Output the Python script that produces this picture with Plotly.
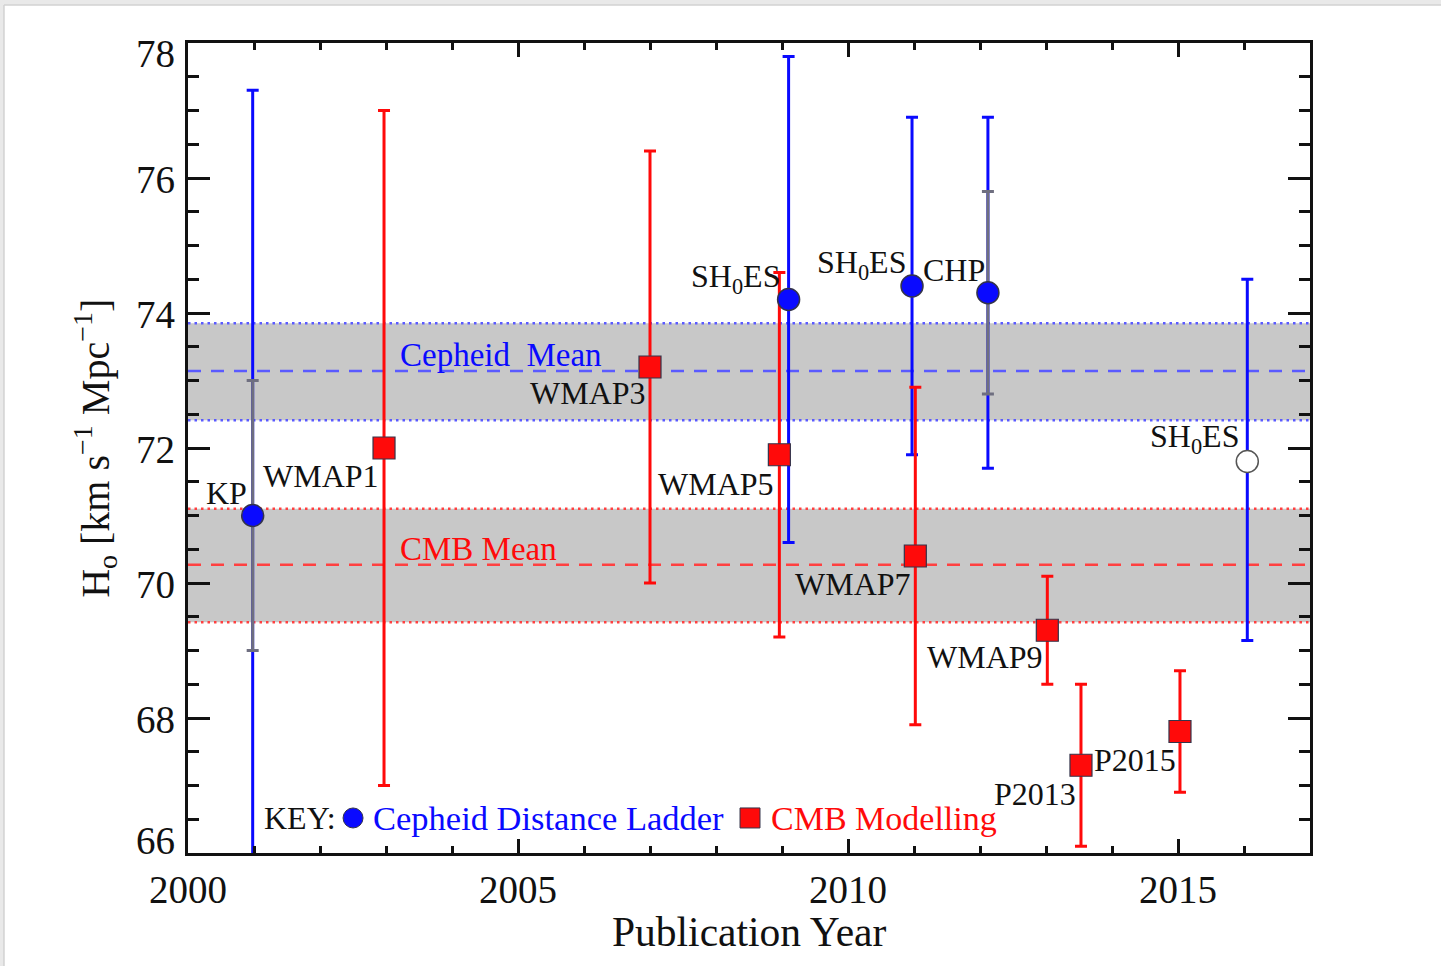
import plotly.graph_objects as go

# ---------------- data ----------------
cep_names = ["KP", "SH<sub>0</sub>ES", "SH<sub>0</sub>ES", "CHP", "SH<sub>0</sub>ES"]
cep_year = [2000.98, 2009.10, 2010.97, 2012.12, 2016.05]
cep_h0 = [71.0, 74.2, 74.4, 74.3, 71.8]
cep_err_plus = [6.3, 3.6, 2.5, 2.6, 2.7]
cep_err_minus = [6.3, 3.6, 2.5, 2.6, 2.65]
cep_open = [False, False, False, False, True]

stat_year = [2000.98, 2012.12]
stat_h0 = [71.0, 74.3]
stat_err = [2.0, 1.5]

cmb_names = ["WMAP1", "WMAP3", "WMAP5", "WMAP7", "WMAP9", "P2013", "P2015"]
cmb_year = [2002.97, 2007.0, 2008.96, 2011.02, 2013.02, 2013.53, 2015.03]
cmb_h0 = [72.0, 73.2, 71.9, 70.4, 69.3, 67.3, 67.8]
cmb_err_plus = [5.0, 3.2, 2.7, 2.5, 0.8, 1.2, 0.9]
cmb_err_minus = [5.0, 3.2, 2.7, 2.5, 0.8, 1.2, 0.9]

cep_band = [72.41, 73.14, 73.85]   # low, mean, high
cmb_band = [69.42, 70.27, 71.10]

x_range = [2000, 2017]
y_range = [66, 78]
y_ticks = [66, 68, 70, 72, 74, 76, 78]

# ---------------- styles ----------------
FONT = "Liberation Serif"
BLUE = "#0a0aff"
RED = "#ff0a0a"
GRAY = "#6f6f80"
EDGE = "#34344a"
INK = "#111111"

# label offsets (pixels) relative to each point: (xshift, yshift)
cep_offsets = [(-4, 23), (-7, 21), (-4, 22), (-1, 23), (-6, 23)]
cmb_offsets = [(-3, -28), (-2, -26), (-3, -29), (-2, -28), (-2, -27), (-3, -29), (-2, -28)]
# vertical nudges of the y tick labels (end labels kept inside the frame)
y_tick_shift = {66: 13, 78: -10}

fig = go.Figure()

# blue total error bars (no visible marker)
fig.add_trace(go.Scatter(
    x=cep_year, y=cep_h0, mode="markers",
    marker=dict(size=1, color="rgba(0,0,0,0)"),
    error_y=dict(type="data", symmetric=False, array=cep_err_plus,
                 arrayminus=cep_err_minus, color=BLUE, thickness=3, width=6),
    hoverinfo="skip", showlegend=False))

# CMB points
fig.add_trace(go.Scatter(
    x=cmb_year, y=cmb_h0, mode="markers",
    marker=dict(symbol="square", size=22, color=RED, line=dict(color=EDGE, width=1.2)),
    error_y=dict(type="data", symmetric=False, array=cmb_err_plus,
                 arrayminus=cmb_err_minus, color=RED, thickness=3, width=6),
    showlegend=False))

# gray statistical error bars
fig.add_trace(go.Scatter(
    x=stat_year, y=stat_h0, mode="markers",
    marker=dict(size=1, color="rgba(0,0,0,0)"),
    error_y=dict(type="data", array=stat_err, color=GRAY, thickness=3, width=6),
    hoverinfo="skip", showlegend=False))

# Cepheid markers on top
fig.add_trace(go.Scatter(
    x=cep_year, y=cep_h0, mode="markers",
    marker=dict(symbol="circle", size=22,
                color=["white" if o else BLUE for o in cep_open],
                line=dict(color=[("#555555" if o else EDGE) for o in cep_open], width=1.5)),
    showlegend=False))

shapes = []
# page frame (light gray strip top/left, white page)
shapes.append(dict(type="rect", xref="paper", yref="paper",
                   x0=-0.1640, x1=1.12, y0=-0.145, y1=1.0469,
                   fillcolor="white", line=dict(width=0), layer="below"))
shapes.append(dict(type="line", xref="paper", yref="paper",
                   x0=-0.1640, x1=1.12, y0=1.0469, y1=1.0469,
                   line=dict(color="#d2d2d2", width=1.5), layer="below"))
shapes.append(dict(type="line", xref="paper", yref="paper",
                   x0=-0.1640, x1=-0.1640, y0=-0.145, y1=1.0469,
                   line=dict(color="#d2d2d2", width=1.5), layer="below"))

for band, col in [(cep_band, "#5a5aff"), (cmb_band, "#ff4040")]:
    shapes.append(dict(type="rect", xref="paper", yref="y", x0=0, x1=1,
                       y0=band[0], y1=band[2], fillcolor="#c8c8c8",
                       line=dict(width=0), layer="below"))
    for yv in (band[0], band[2]):
        shapes.append(dict(type="line", xref="paper", yref="y", x0=0, x1=1,
                           y0=yv, y1=yv, line=dict(color=col, width=2.5, dash="2.5px,4px"),
                           layer="below"))
    shapes.append(dict(type="line", xref="paper", yref="y", x0=0, x1=1,
                       y0=band[1], y1=band[1], line=dict(color=col, width=2.5, dash="13px,10px"),
                       layer="below"))

# key symbols (paper-positioned legend glyphs)
shapes.append(dict(type="circle", xref="paper", yref="paper",
                   x0=0.1382, x1=0.1560, y0=0.0309, y1=0.0556,
                   fillcolor=BLUE, line=dict(color=EDGE, width=1), layer="above"))
shapes.append(dict(type="rect", xref="paper", yref="paper",
                   x0=0.4920, x1=0.5098, y0=0.0309, y1=0.0556,
                   fillcolor=RED, line=dict(color=EDGE, width=1), layer="above"))

annotations = []
LBL = dict(family=FONT, size=32, color=INK)
for name, xv, yv, (dx, dy) in zip(cep_names, cep_year, cep_h0, cep_offsets):
    annotations.append(dict(x=xv, y=yv, xref="x", yref="y", text=name, showarrow=False,
                            xanchor="right", yanchor="middle", xshift=dx, yshift=dy, font=LBL))
for name, xv, yv, (dx, dy) in zip(cmb_names, cmb_year, cmb_h0, cmb_offsets):
    annotations.append(dict(x=xv, y=yv, xref="x", yref="y", text=name, showarrow=False,
                            xanchor="right", yanchor="middle", xshift=dx, yshift=dy, font=LBL))

annotations.append(dict(x=0.187, y=cep_band[1], xref="paper", yref="y",
                        text="Cepheid\u00a0\u00a0Mean", showarrow=False, xanchor="left",
                        yanchor="middle", yshift=16, font=dict(family=FONT, size=33, color=BLUE)))
annotations.append(dict(x=0.187, y=cmb_band[1], xref="paper", yref="y",
                        text="CMB Mean", showarrow=False, xanchor="left",
                        yanchor="middle", yshift=16, font=dict(family=FONT, size=33, color=RED)))

# key texts
annotations.append(dict(x=0.0686, y=0.043, xref="paper", yref="paper", showarrow=False,
                        xanchor="left", yanchor="middle", xshift=-3, text="KEY:",
                        font=dict(family=FONT, size=32, color=INK)))
annotations.append(dict(x=0.1631, y=0.043, xref="paper", yref="paper", showarrow=False,
                        xanchor="left", yanchor="middle", text="Cepheid Distance Ladder",
                        font=dict(family=FONT, size=34.5, color=BLUE)))
annotations.append(dict(x=0.5178, y=0.043, xref="paper", yref="paper", showarrow=False,
                        xanchor="left", yanchor="middle", text="CMB Modelling",
                        font=dict(family=FONT, size=34, color=RED)))

# y tick labels
for t in y_ticks:
    annotations.append(dict(x=0, y=t, xref="paper", yref="y", showarrow=False,
                            xanchor="right", yanchor="middle", xshift=-11,
                            yshift=y_tick_shift.get(t, -1), text=str(t),
                            font=dict(family=FONT, size=39, color=INK)))

annotations.append(dict(x=0.5, y=-0.0975, xref="paper", yref="paper", showarrow=False,
                        text="Publication Year", xanchor="center", yanchor="middle",
                        font=dict(family=FONT, size=41.5, color=INK)))
annotations.append(dict(x=-0.083, y=0.5, xref="paper", yref="paper", showarrow=False,
                        text="H<sub>o</sub> [km s<sup>\u22121</sup> Mpc<sup>\u22121</sup>]",
                        textangle=-90, xanchor="center", yanchor="middle",
                        font=dict(family=FONT, size=40, color=INK)))

axis_common = dict(showline=True, linecolor=INK, linewidth=2.5, mirror="allticks",
                   ticks="inside", tickcolor=INK, tickwidth=2.5, showgrid=False,
                   zeroline=False, tickfont=dict(family=FONT, size=39, color=INK))

fig.update_xaxes(range=x_range, dtick=5, tick0=2000, ticklen=14,
                 minor=dict(dtick=1, ticks="inside", ticklen=7, tickcolor=INK,
                            tickwidth=2.5, showgrid=False),
                 **axis_common)
fig.update_yaxes(range=y_range, tickvals=y_ticks, ticklen=22, showticklabels=False,
                 minor=dict(dtick=0.5, tick0=66, ticks="inside", ticklen=11, tickcolor=INK,
                            tickwidth=2.5, showgrid=False),
                 **axis_common)

fig.update_layout(
    width=1441, height=966, autosize=False,
    margin=dict(l=188, r=131, t=43, b=113),
    paper_bgcolor="#e9e9e9", plot_bgcolor="white",
    shapes=shapes, annotations=annotations, showlegend=False,
    font=dict(family=FONT, color=INK),
)

fig.write_html("out.html")
